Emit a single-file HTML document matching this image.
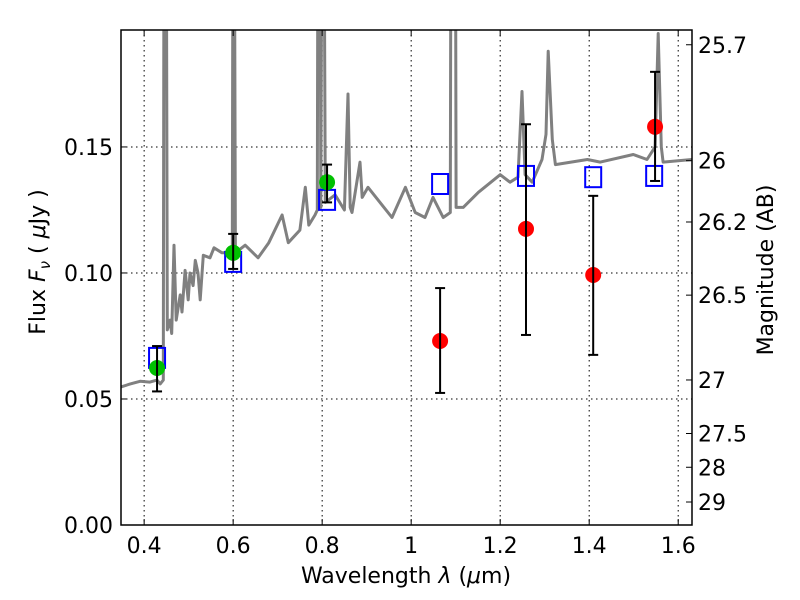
<!DOCTYPE html>
<html><head><meta charset="utf-8"><style>
body{margin:0;background:#fff}
svg text{font-family:"DejaVu Sans","Liberation Sans",sans-serif;font-size:22px;fill:#000}
</style></head><body>
<svg id="chart" width="800" height="600" xmlns="http://www.w3.org/2000/svg" style="position:absolute;left:0;top:0">
<rect width="800" height="600" fill="#fff"/>
<g id="grid"></g>
<g id="spec"></g>
<g id="marks"></g>
<g id="axes"></g>
<text x="406" y="583" text-anchor="middle">Wavelength  <tspan font-style="italic">λ</tspan> (<tspan font-style="italic">μ</tspan>m)</text>
<text transform="translate(45,262) rotate(-90)" text-anchor="middle">Flux  <tspan font-style="italic">F</tspan><tspan font-style="italic" font-size="15" dy="5">ν</tspan><tspan dy="-5">  (  </tspan><tspan font-style="italic">μ</tspan>Jy )</text>
<text transform="translate(773,270) rotate(-90)" text-anchor="middle">Magnitude (AB)</text>
</svg>
<script>
const spectrum=[[0.348,0.0548],[0.369,0.056],[0.391,0.057],[0.413,0.0567],[0.429,0.0575],[0.436,0.056],[0.443,0.0575],[0.445,0.3],[0.449,0.3],[0.452,0.0774],[0.458,0.0813],[0.462,0.076],[0.467,0.111],[0.472,0.0813],[0.481,0.0913],[0.485,0.0845],[0.492,0.101],[0.499,0.0893],[0.503,0.1],[0.510,0.095],[0.515,0.105],[0.521,0.1],[0.526,0.0893],[0.533,0.107],[0.548,0.106],[0.557,0.110],[0.575,0.108],[0.589,0.108],[0.598,0.107],[0.600,0.3],[0.602,0.3],[0.605,0.108],[0.627,0.111],[0.656,0.106],[0.680,0.112],[0.710,0.123],[0.724,0.112],[0.750,0.117],[0.762,0.134],[0.770,0.119],[0.784,0.123],[0.789,0.125],[0.791,0.3],[0.795,0.3],[0.797,0.126],[0.800,0.3],[0.803,0.3],[0.807,0.128],[0.829,0.131],[0.850,0.125],[0.858,0.171],[0.863,0.126],[0.867,0.124],[0.885,0.144],[0.890,0.130],[0.903,0.134],[0.930,0.128],[0.957,0.122],[0.987,0.134],[1.009,0.124],[1.031,0.122],[1.049,0.130],[1.072,0.122],[1.088,0.124],[1.090,0.3],[1.094,0.3],[1.096,0.3],[1.099,0.3],[1.101,0.126],[1.117,0.126],[1.151,0.132],[1.200,0.139],[1.222,0.136],[1.240,0.138],[1.249,0.172],[1.256,0.139],[1.272,0.136],[1.294,0.145],[1.303,0.155],[1.308,0.188],[1.317,0.153],[1.324,0.143],[1.396,0.145],[1.425,0.144],[1.499,0.147],[1.530,0.145],[1.548,0.150],[1.555,0.195],[1.562,0.150],[1.566,0.144],[1.631,0.145]];
const greenX=[0.429,0.600,0.811];
const greenY=[0.0623,0.108,0.136];
const greenLo=[0.053,0.1016,0.128];
const greenHi=[0.071,0.1155,0.143];
const redX=[1.065,1.258,1.409,1.548];
const redY=[0.073,0.1175,0.0992,0.158];
const redLo=[0.0524,0.0754,0.0675,0.1365];
const redHi=[0.094,0.159,0.1306,0.1798];
const modelX=[0.429,0.600,0.811,1.065,1.258,1.409,1.546];
const modelY=[0.0663,0.1044,0.129,0.1353,0.1385,0.138,0.1385];
const xTicks=[0.4,0.6,0.8,1.0,1.2,1.4,1.6];
const xTickLabels=["0.4","0.6","0.8","1","1.2","1.4","1.6"];
const yTicks=[0,0.05,0.10,0.15];
const yTickLabels=["0.00","0.05","0.10","0.15"];
const magTicks=[25.7,26,26.2,26.5,27,27.5,28,29];

const L=121,R=692,T=30,B=525,X0=0.348,X1=1.631,Y0=0,Y1=0.1964;
const sx=v=>L+(v-X0)/(X1-X0)*(R-L);
const sy=v=>B-(v-Y0)/(Y1-Y0)*(B-T);
const NS="http://www.w3.org/2000/svg";
function mk(tag,attrs,parent){const e=document.createElementNS(NS,tag);for(const k in attrs)e.setAttribute(k,attrs[k]);parent.appendChild(e);return e;}
const grid=document.getElementById('grid'),spec=document.getElementById('spec'),marks=document.getElementById('marks'),axes=document.getElementById('axes');
xTicks.forEach(v=>{const l=mk('line',{x1:sx(v),x2:sx(v),y1:T,y2:B,stroke:'#000','stroke-dasharray':'1.5,3.5','stroke-width':1},grid);

});
yTicks.forEach(v=>{const l=mk('line',{x1:L,x2:R,y1:sy(v),y2:sy(v),stroke:'#000','stroke-dasharray':'1.5,3.5','stroke-width':1},grid);

});
const defs=mk('defs',{},spec);const cp=mk('clipPath',{id:'cp'},defs);mk('rect',{x:L,y:T,width:R-L,height:B-T},cp);
const sp=mk('polyline',{points:spectrum.map(p=>sx(p[0]).toFixed(1)+','+sy(p[1]).toFixed(1)).join(' '),fill:'none',stroke:'#808080','stroke-width':3,'clip-path':'url(#cp)','stroke-linejoin':'round'},spec);


modelX.forEach((x,i)=>{const r=mk('rect',{x:sx(x)-8,y:sy(modelY[i])-10,width:16,height:20,fill:'none',stroke:'#0000ff','stroke-width':2},marks);

});
function errbar(x,lo,hi){const g=mk('g',{stroke:'#000','stroke-width':2},marks);


mk('line',{x1:sx(x),x2:sx(x),y1:sy(lo),y2:sy(hi)},g);mk('line',{x1:sx(x)-5,x2:sx(x)+5,y1:sy(lo),y2:sy(lo)},g);mk('line',{x1:sx(x)-5,x2:sx(x)+5,y1:sy(hi),y2:sy(hi)},g);}
greenX.forEach((x,i)=>{const c=mk('circle',{cx:sx(x),cy:sy(greenY[i]),r:8,fill:'#00c000'},marks);

});
greenX.forEach((x,i)=>errbar(x,greenLo[i],greenHi[i]));
redX.forEach((x,i)=>{const c=mk('circle',{cx:sx(x),cy:sy(redY[i]),r:8,fill:'#ff0000'},marks);

});
redX.forEach((x,i)=>errbar(x,redLo[i],redHi[i]));
const fr=mk('rect',{x:L,y:T,width:R-L,height:B-T,fill:'none',stroke:'#000','stroke-width':1.5},axes);


xTicks.forEach((v,i)=>{mk('line',{x1:sx(v),x2:sx(v),y1:B,y2:B-6,stroke:'#000'},axes);mk('line',{x1:sx(v),x2:sx(v),y1:T,y2:T+6,stroke:'#000'},axes);
const t=mk('text',{x:sx(v),y:B+28,'text-anchor':'middle'},axes);t.textContent=xTickLabels[i];

});
yTicks.forEach((v,i)=>{mk('line',{x1:L,x2:L+6,y1:sy(v),y2:sy(v),stroke:'#000'},axes);
const t=mk('text',{x:L-8,y:sy(v)+8,'text-anchor':'end'},axes);t.textContent=yTickLabels[i];

});
magTicks.forEach(m=>{const f=Math.pow(10,(23.9-m)/2.5);const y=sy(f);mk('line',{x1:R,x2:R-6,y1:y,y2:y,stroke:'#000'},axes);
const t=mk('text',{x:R+6,y:y+8},axes);t.textContent=String(m);

});
</script>
</body></html>
